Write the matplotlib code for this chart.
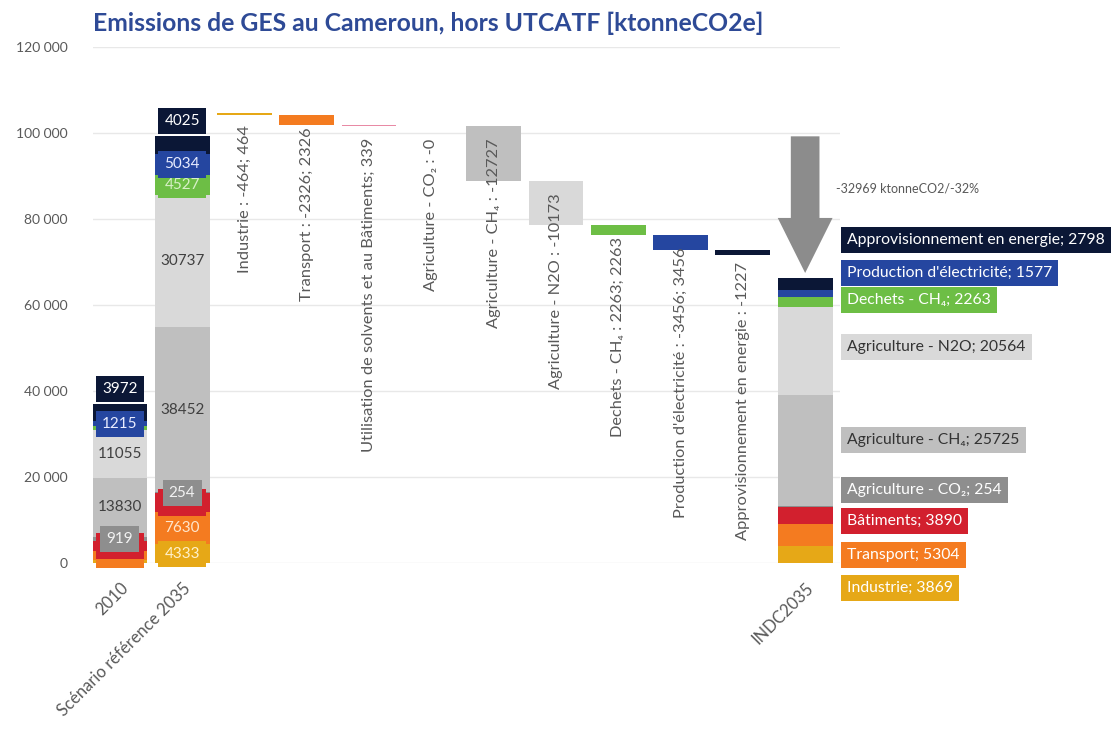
import matplotlib
matplotlib.use("Agg")
import matplotlib.pyplot as plt
from matplotlib.patches import FancyArrow
from matplotlib.ticker import FuncFormatter

plt.rcParams['font.family'] = ['Lato', 'DejaVu Sans']

# sectors, bottom to top of the stacks
sectors = ["Industrie", "Transport", "Bâtiments", "Agriculture - CO₂", "Agriculture - CH₄",
           "Agriculture - N2O", "Dechets - CH₄", "Production d'électricité",
           "Approvisionnement en energie"]
em_2010 = [800, 2100, 2200, 919, 13830, 11055, 900, 1215, 3972]
em_ref2035 = [4333, 7630, 4229, 254, 38452, 30737, 4527, 5034, 4025]
em_indc2035 = [3869, 5304, 3890, 254, 25725, 20564, 2263, 1577, 2798]
reductions = [464, 2326, 339, 0, 12727, 10173, 2263, 3456, 1227]
wf_labels = ["Industrie : -464; 464", "Transport : -2326; 2326",
             "Utilisation de solvents et au Bâtiments; 339", "Agriculture - CO₂ : -0",
             "Agriculture - CH₄ : -12727", "Agriculture - N2O : -10173",
             "Dechets - CH₄ : 2263; 2263", "Production d'électricité : -3456; 3456",
             "Approvisionnement en energie : -1227"]
wf_start = 104650
bar_names = ["2010", "Scénario référence 2035", "INDC2035"]
total_text = "-32969 ktonneCO2/-32%"

colors = ["#E6A817", "#F47B20", "#D2202E", "#8E8E8E", "#BFBFBF", "#D9D9D9",
          "#6DBE45", "#2546A0", "#0B1736"]
wf_colors = ["#E6A817", "#F47B20", "#E88AA5", "#8E8E8E", "#BFBFBF", "#D9D9D9",
             "#6DBE45", "#2546A0", "#0B1736"]
txt_colors = ["#FFF1CC", "#FFE6CC", "#FFE0E0", "#F2F2F2", "#404040", "#404040",
              "#D8F0C8", "#E8ECFF", "#FFFFFF"]
boxed = [True, True, True, True, False, False, True, True, True]
side_y = [-5800, 1900, 9800, 17000, 28600, 50200, 61200, 67400, 75100]
# labels that are fully hidden in the 2010 column
skip_2010 = [0, 6]

fig = plt.figure(figsize=(11.15, 7.33), dpi=100)
ax = fig.add_axes([0.0834, 0.2319, 0.67, 0.704])
W = 0.88


def stack(x, vals, skip=()):
    bottom = 0
    n = len(vals)
    for i, v in enumerate(vals):
        ax.bar(x, v, bottom=bottom, width=W, color=colors[i], zorder=2)
        if i not in skip:
            box = dict(boxstyle='square,pad=0.4', fc=colors[i], ec='none') if boxed[i] else None
            if i == n - 1:
                ax.annotate(str(v), (x, bottom + v), xytext=(0, 6), textcoords='offset points',
                            ha='center', va='bottom', fontsize=11, color=txt_colors[i],
                            bbox=box, zorder=3 + i)
            else:
                ax.text(x, bottom + v / 2, str(v), ha='center', va='center', fontsize=11,
                        color=txt_colors[i], bbox=box, zorder=3 + i)
        bottom += v
    return bottom


stack(0, em_2010, skip_2010)
ref_total = stack(1, em_ref2035)

# INDC stack, labels on the side
bottom = 0
for i, v in enumerate(em_indc2035):
    ax.bar(11, v, bottom=bottom, width=W, color=colors[i], zorder=2)
    bottom += v
    ax.text(11.67, side_y[i], f"{sectors[i]}; {v}", ha='left', va='center', fontsize=11.3,
            color="#FFFFFF" if boxed[i] else "#333333",
            bbox=dict(boxstyle='square,pad=0.4', fc=colors[i], ec='none'))
indc_total = bottom

# waterfall
top = wf_start
for i, r in enumerate(reductions):
    x = i + 2
    if r > 0:
        ax.bar(x, -r, bottom=top, width=W, color=wf_colors[i], zorder=2)
    ax.annotate(wf_labels[i], (x, top), xytext=(0, -9), textcoords='offset points',
                rotation=90, ha='center', va='top', fontsize=11.8, color="#595959", zorder=4)
    top -= r

ax.add_patch(FancyArrow(11, ref_total, 0, -(ref_total - indc_total - 1200), width=0.46,
                        head_width=0.88, head_length=12800, length_includes_head=True,
                        color="#8C8C8C", ec='none', zorder=3))
ax.text(11.5, 87200, total_text, fontsize=9, color="#595959", ha='left', va='center')

ax.set_xlim(-0.43, 11.56)
ax.set_ylim(0, 120000)
ax.set_yticks(range(0, 120001, 20000))
ax.yaxis.set_major_formatter(FuncFormatter(lambda v, p: f"{int(v):,}".replace(",", " ")))
ax.yaxis.grid(True, color="#E8E8E8", lw=1)
ax.set_axisbelow(True)
ax.set_xticks([0, 1, 11])
ax.set_xticklabels(bar_names, rotation=45, ha='right', rotation_mode='anchor')
ax.tick_params(length=0, colors="#595959")
ax.tick_params(axis='y', pad=18, labelsize=10)
ax.tick_params(axis='x', pad=12, labelsize=12)
for s in ax.spines.values():
    s.set_visible(False)

fig.text(0.0834, 0.968, "Emissions de GES au Cameroun, hors UTCATF [ktonneCO2e]",
         fontsize=17.8, fontweight='bold', color="#2E4A96", ha='left', va='center')

fig.savefig("out.png", dpi=100)
